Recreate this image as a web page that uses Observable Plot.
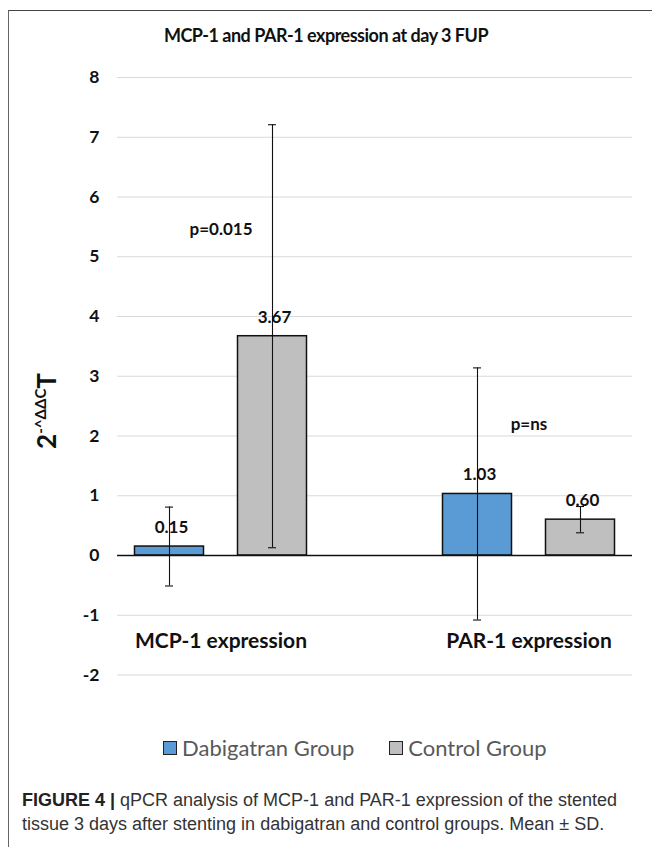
<!DOCTYPE html>
<html>
<head>
<meta charset="utf-8">
<script src="https://cdn.jsdelivr.net/npm/d3@7"></script>
<script src="https://cdn.jsdelivr.net/npm/@observablehq/plot@0.6"></script>
<style>
  html, body { margin: 0; padding: 0; background: #fff; overflow: hidden; }
  #page { position: relative; width: 652px; height: 847px; }
  #box { position: absolute; left: 8px; top: 10px; width: 700px; height: 900px;
         border-left: 1.5px solid #666; border-top: 1.5px solid #444; box-sizing: border-box; }
  #title { position: absolute; left: 0; top: 26px; width: 652px; text-align: center;
           font-family: Lato, sans-serif; font-weight: bold; font-size: 18px; line-height: 18px;
           letter-spacing: -0.5px; color: #111; }
  #chart { position: absolute; left: 0; top: 50px; }
  #legend { position: absolute; top: 737px; left: 163px; display: flex; align-items: center;
            font-family: Lato, sans-serif; font-size: 22px; line-height: 22px; color: #595959; }
  #legend .item { display: flex; align-items: center; margin-right: 35px; }
  #legend .sw { width: 12px; height: 12px; border: 1.8px solid #222; margin-right: 5px; }
  #caption { position: absolute; left: 22px; top: 788px; width: 630px;
             font-family: "Liberation Sans", Arial, sans-serif; font-size: 18px; line-height: 24px; color: #333; }
  #caption b { color: #222; }
  svg [aria-label^="x-axis"] text { font-size: 21px; }
</style>
</head>
<body>
<div id="page">
  <div id="box"></div>
  <div id="title"></div>
  <div id="chart"></div>
  <div id="legend"></div>
  <div id="caption"><b>FIGURE 4 |</b> qPCR analysis of MCP-1 and PAR-1 expression of the stented<br>tissue 3 days after stenting in dabigatran and control groups. Mean ± SD.</div>
</div>
<script>
// ---- data ----
const titleText = "MCP-1 and PAR-1 expression at day 3 FUP";
const categories = ["MCP-1 expression", "PAR-1 expression"];
const groups = ["Dabigatran Group", "Control Group"];
const groupColors = ["#5B9BD5", "#BFBFBF"];
const dabigatranMean = [0.15, 1.03];
const dabigatranSD = [0.66, 2.11];
const controlMean = [3.67, 0.60];
const controlSD = [3.54, 0.22];
const pLabels = ["p=0.015", "p=ns"];
const pHeights = [5.45, 2.2];
const yTicks = [-2, -1, 0, 1, 2, 3, 4, 5, 6, 7, 8];

// ---- table built from arrays ----
const means = [dabigatranMean, controlMean];
const sds = [dabigatranSD, controlSD];
const rows = [];
groups.forEach((g, gi) => categories.forEach((c, ci) => {
  rows.push({category: c, group: g, mean: means[gi][ci], sd: sds[gi][ci]});
}));
const annotations = categories.map((c, i) => ({category: c, label: pLabels[i], y: pHeights[i]}));

document.getElementById("title").textContent = titleText;

const offsets = [-51.5, 51.5];
const fmt = d3.format(".2f");
const groupMarks = groups.flatMap((g, gi) => {
  const d = rows.filter(r => r.group === g);
  return [
    Plot.barY(d, {x: "category", y: "mean", fill: groupColors[gi], stroke: "#111", strokeWidth: 1.5, dx: offsets[gi]}),
    Plot.text(d, {x: "category", y: "mean", text: r => fmt(r.mean), dx: offsets[gi] + 2, dy: -19, fontSize: 17, fontWeight: "bold", fill: "#111"})
  ];
});
const errMarks = groups.flatMap((g, gi) => {
  const d = rows.filter(r => r.group === g);
  return [
    Plot.ruleX(d, {x: "category", y1: r => r.mean - r.sd, y2: r => r.mean + r.sd, dx: offsets[gi], stroke: "#111", strokeWidth: 1.1}),
    Plot.tickY(d, {x: "category", y: r => r.mean + r.sd, dx: offsets[gi], insetLeft: 30.5, insetRight: 30.5, stroke: "#111", strokeWidth: 1.1}),
    Plot.tickY(d, {x: "category", y: r => r.mean - r.sd, dx: offsets[gi], insetLeft: 30.5, insetRight: 30.5, stroke: "#111", strokeWidth: 1.1})
  ];
});

const chart = Plot.plot({
  width: 652,
  height: 647,
  marginTop: 27,
  marginBottom: 22.5,
  marginLeft: 117,
  marginRight: 20,
  style: {fontFamily: "Lato, sans-serif", fontSize: "17.5px", fontWeight: "bold", color: "#111", background: "transparent"},
  x: {type: "band", domain: categories, paddingInner: 0.7765, paddingOuter: 0.2223, tickSize: 0, tickPadding: -42, label: null},
  y: {domain: [-2, 8], ticks: yTicks, tickSize: 0, tickPadding: 18, label: null, tickFormat: d => String(d)},
  marks: [
    Plot.ruleY(yTicks, {stroke: "#d9d9d9", strokeWidth: 1.2}),
    ...groupMarks,
    Plot.ruleY([0], {stroke: "#111", strokeWidth: 1.5}),
    Plot.text(annotations, {x: "category", y: "y", text: "label", fontSize: 17, fontWeight: "bold", fill: "#111"}),
    ...errMarks
  ]
});
document.getElementById("chart").appendChild(chart);

// y-axis title with superscript
const svg = d3.select(chart);
const yl = svg.append("text")
  .attr("transform", "translate(56,361) rotate(-90)")
  .attr("text-anchor", "middle")
  .attr("font-family", "Lato, sans-serif").attr("font-weight", "bold")
  .attr("font-size", 26).attr("fill", "#111");
yl.append("tspan").text("2");
yl.append("tspan").attr("font-size", 15).attr("dy", -10).text("-^ΔΔC");
yl.append("tspan").attr("dy", 10).text("T");

// legend
const legend = d3.select("#legend");
groups.forEach((g, i) => {
  const it = legend.append("div").attr("class", "item");
  it.append("div").attr("class", "sw").style("background", groupColors[i]);
  it.append("span").text(g);
});
</script>
</body>
</html>
